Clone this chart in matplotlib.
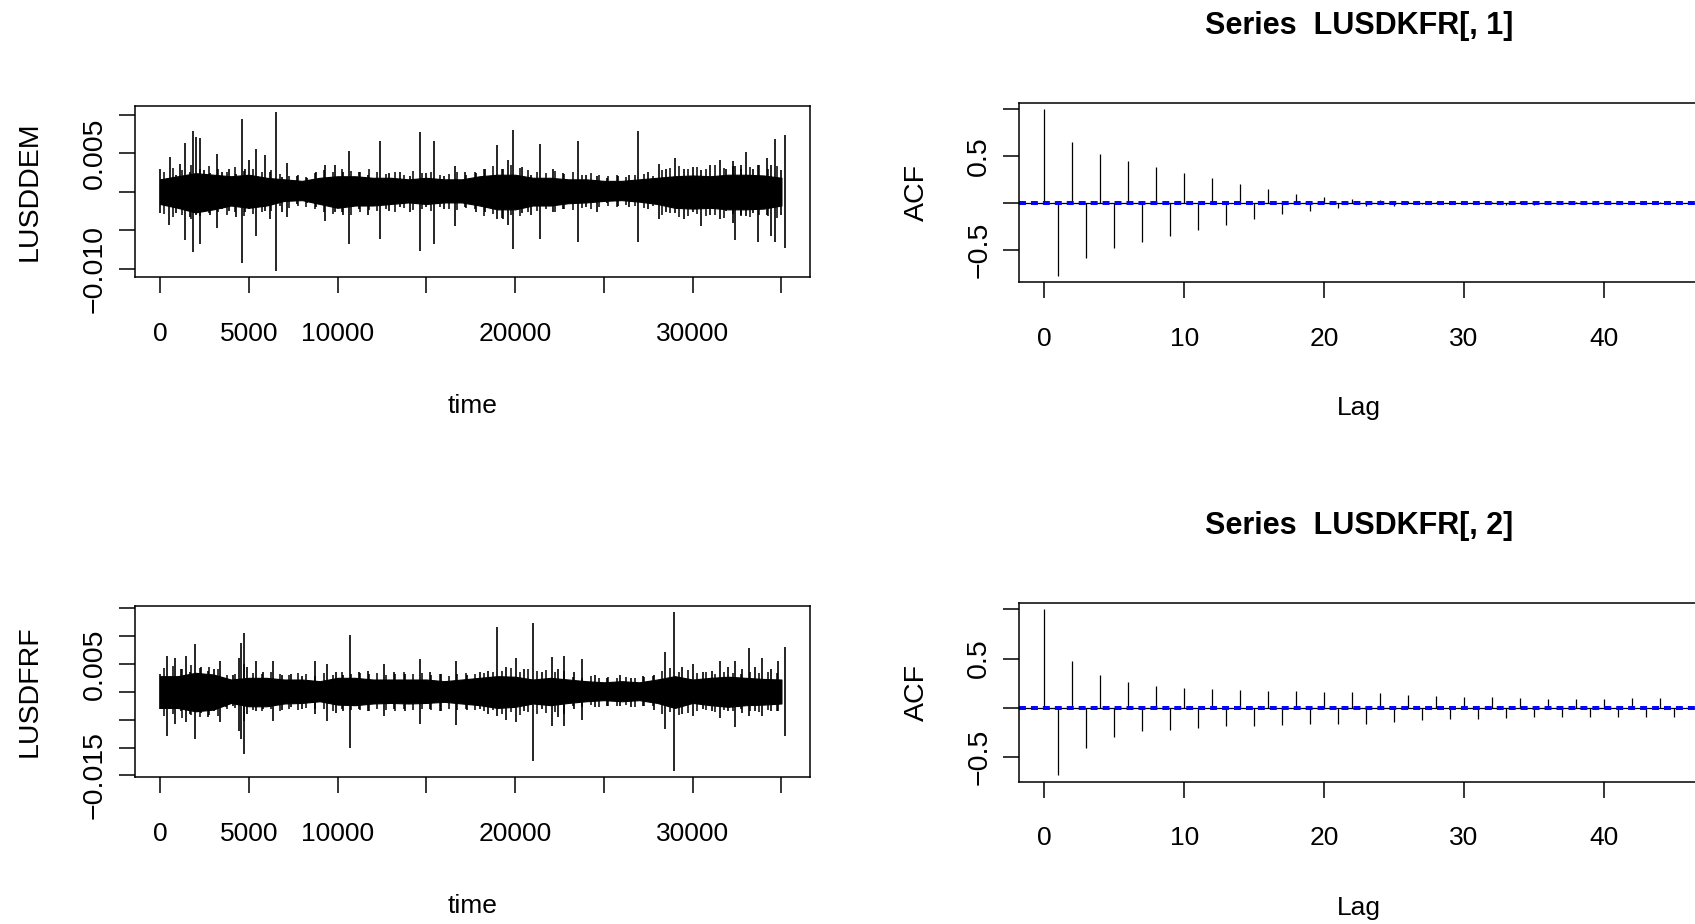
import numpy as np
import matplotlib
matplotlib.use('Agg')
import matplotlib.pyplot as plt
from matplotlib import font_manager

W, H = 1695, 924

# ---- data (values in units of 0.001) ----
n_obs = 35200
time_ticks = [0, 5000, 10000, 15000, 20000, 25000, 30000, 35000]
time_labels = ['0', '5000', '10000', '', '20000', '', '30000', '']

# dense core of each series, every 1000 steps
env_t = list(range(0, 36000, 1000))
dem_env_hi = [1.6, 2.0, 2.4, 2.2, 2.0, 2.2, 1.8, 1.6, 1.4, 1.8, 2.0, 2.0, 1.8, 1.8, 1.6, 1.8, 1.6, 1.6,
              2.0, 2.2, 2.2, 1.8, 1.8, 1.6, 1.6, 1.4, 1.4, 1.6, 1.8, 2.0, 2.1, 2.0, 2.2, 2.2, 2.1, 1.8]
dem_env_lo = [-1.6, -2.1, -2.7, -2.3, -1.8, -2.1, -1.8, -1.2, -1.1, -1.6, -2.1, -1.8, -1.8, -1.6, -1.4, -1.6, -1.4, -1.4,
              -1.8, -2.3, -2.3, -1.8, -1.8, -1.5, -1.4, -1.2, -1.1, -1.3, -1.6, -2.1, -2.2, -2.1, -2.3, -2.3, -2.2, -1.8]
frf_env_hi = [2.8, 2.8, 3.4, 3.1, 2.2, 2.5, 2.5, 2.2, 2.2, 1.9, 2.5, 2.5, 2.2, 2.2, 2.2, 2.2, 1.9, 2.2,
              2.5, 2.8, 2.7, 2.2, 2.5, 2.2, 1.9, 1.7, 1.9, 1.7, 2.2, 2.8, 2.2, 2.5, 2.7, 2.5, 2.3, 2.2]
frf_env_lo = [-2.9, -2.9, -3.5, -3.2, -2.0, -2.6, -2.6, -2.1, -2.0, -1.7, -2.3, -2.4, -2.1, -2.0, -2.1, -2.0, -1.8, -2.1,
              -2.4, -2.9, -2.7, -2.1, -2.4, -2.0, -1.7, -1.5, -1.7, -1.5, -2.0, -2.9, -2.0, -2.4, -2.7, -2.4, -2.3, -2.1]

# short hairs sticking out of the core, every 500 steps starting at 250
hair_t = list(range(250, 35000, 500))
dem_hair_hi = [2.6, 3.1, 2.8, 3.4, 3.0, 3.3,
               2.9, 2.6, 3.2, 2.7, 3.0, 2.5, 2.8,
               2.3, 2.0, 2.2, 1.9, 2.4,
               2.8, 2.6, 3.0, 2.7, 2.5, 2.9,
               2.6, 2.3, 2.5, 2.2, 2.7, 2.4, 2.6, 2.2, 2.3, 2.5, 2.2, 2.6,
               3.0, 3.3, 2.9, 3.4, 3.1, 2.8,
               2.6, 2.4, 2.7, 2.3, 2.5, 2.2, 2.4, 2.2,
               2.0, 2.2, 1.9, 2.1, 2.3, 2.0,
               2.8, 3.1, 3.3, 2.9, 3.2, 3.0, 3.4, 3.1, 3.3, 2.9, 3.2, 3.5, 3.0, 3.3]
dem_hair_lo = [-2.9, -3.3, -3.0, -3.6, -3.1, -2.8,
               -2.7, -3.0, -2.6, -3.1, -2.9, -2.7, -2.5,
               -1.9, -2.1, -1.8, -2.0, -2.2,
               -2.6, -2.9, -2.7, -3.0, -2.6, -2.4,
               -2.5, -2.2, -2.6, -2.1, -2.4, -2.3, -2.5, -2.0, -2.2, -2.4, -2.1, -2.3,
               -3.2, -2.9, -3.4, -3.0, -3.1, -2.7,
               -2.5, -2.3, -2.6, -2.2, -2.4, -2.1, -2.3, -2.0,
               -1.8, -2.0, -1.7, -1.9, -2.1, -1.9,
               -3.0, -2.8, -3.3, -3.1, -2.9, -3.2, -3.0, -3.4, -2.9, -3.1, -3.3, -3.0, -3.2, -3.4]
frf_hair_hi = [4.2, 4.6, 4.0, 4.8, 4.3, 4.5, 4.1,
               3.0, 3.2,
               5.0,
               3.4, 3.1, 3.6, 3.2, 3.0, 3.3, 3.1, 2.8,
               3.3, 3.0, 3.5, 3.2, 3.4, 3.1, 3.3, 3.0, 3.2, 3.5, 3.1, 3.3, 3.0, 3.2, 2.9, 3.1, 3.4, 3.2, 3.3, 3.5,
               3.8, 4.2, 3.6, 4.0, 3.7, 3.9, 3.5, 3.8,
               2.7, 2.5, 2.8, 2.4, 2.6, 2.5, 2.7, 2.4, 2.6, 2.8,
               3.8, 4.2, 3.6, 3.9,
               3.3, 3.5, 3.1, 3.6, 3.4, 3.2, 3.5, 3.3, 3.6, 3.4]
frf_hair_lo = [-4.4, -4.0, -4.7, -4.2, -4.6, -4.1, -4.3,
               -3.1, -2.9,
               -5.2,
               -3.2, -3.5, -3.0, -3.4, -3.1, -3.3, -2.9, -3.0,
               -3.1, -3.4, -3.0, -3.3, -3.2, -3.5, -3.0, -3.2, -3.4, -3.1, -3.3, -3.0, -3.2, -3.4, -3.1, -3.3,
               -3.0, -3.2, -3.5, -3.3,
               -4.0, -3.7, -4.1, -3.6, -3.9, -3.8, -3.6, -3.9,
               -2.6, -2.8, -2.4, -2.7, -2.5, -2.6, -2.4, -2.7, -2.5, -2.6,
               -4.0, -3.7, -4.1, -3.8,
               -3.4, -3.2, -3.6, -3.3, -3.5, -3.1, -3.4, -3.6, -3.2, -3.5]

# large individual excursions
dem_spk_t = [0, 480, 540, 900, 1150, 1430, 1700, 1880, 2030, 2230, 2500, 2800, 3220, 3500, 3900, 4300,
             4620, 4800, 5000, 5390, 5900, 6200, 6550, 6900, 7180, 7700, 8300, 8800, 9320, 9830, 10300,
             10660, 11200, 11700, 12390, 12900, 13500, 14100, 14630, 15000, 15430, 16000, 16620, 17200,
             17800, 18300, 19000, 19300, 19600, 19900, 20400, 20900, 21390, 22130, 22700, 23530, 24000,
             24600, 25200, 25800, 26400, 26900, 27500, 28090, 28500, 28980, 29500, 30000, 30470, 31000,
             31520, 31900, 32260, 32410, 32700, 33010, 33400, 33690, 34200, 34430, 34640, 34950, 35180]
dem_spk_hi = [2.9, 1.8, 4.5, 2.2, 3.6, 6.3, 2.5, 7.9, 7.1, 7.0, 2.8, 2.4, 4.9, 2.6, 2.9, 2.3,
              9.4, 3.0, 4.1, 5.5, 4.7, 2.5, 10.3, 1.9, 3.7, 2.0, 1.8, 2.6, 3.5, 3.4, 2.5,
              5.3, 2.6, 2.2, 6.6, 2.4, 2.5, 2.0, 7.8, 2.4, 6.6, 2.0, 3.3, 2.5,
              2.4, 3.0, 6.0, 3.0, 4.1, 8.0, 3.2, 2.2, 6.2, 2.9, 2.4, 6.6, 2.2,
              2.0, 1.8, 2.0, 2.2, 7.9, 2.5, 3.6, 3.0, 4.4, 3.0, 3.2, 2.8, 3.5,
              4.1, 3.0, 4.0, 3.3, 3.5, 5.2, 3.0, 3.5, 4.4, 3.5, 6.9, 2.8, 7.4]
dem_spk_lo = [-2.8, -4.3, -2.0, -2.8, -2.0, -6.3, -3.3, -7.8, -3.0, -6.8, -2.2, -3.0, -4.7, -2.2, -2.5, -3.3,
              -9.3, -2.6, -2.2, -5.7, -2.5, -3.5, -10.3, -2.6, -3.3, -1.6, -1.5, -2.0, -3.8, -2.6, -3.0,
              -6.8, -2.2, -3.0, -6.2, -2.5, -2.0, -2.6, -7.7, -2.0, -6.8, -2.3, -4.4, -2.0,
              -2.7, -2.6, -3.5, -3.5, -4.3, -7.5, -2.8, -3.0, -6.1, -2.6, -2.2, -6.5, -2.0,
              -2.6, -1.5, -1.8, -2.0, -6.5, -2.2, -3.5, -2.6, -2.8, -3.6, -2.6, -4.4, -3.0,
              -3.5, -2.5, -4.1, -6.3, -3.0, -3.2, -2.8, -6.5, -3.0, -5.7, -6.5, -3.0, -7.3]
frf_spk_t = [0, 390, 830, 1200, 1490, 1700, 1970, 2300, 2700, 3050, 3370, 3700, 4100, 4450, 4560, 4710,
             4900, 5390, 5800, 6350, 6900, 7400, 8000, 8730, 9380, 9900, 10300, 10720, 11200, 11700,
             12600, 13200, 13800, 14630, 15200, 15800, 16680, 17300, 18000, 18500, 19000, 19500, 20050,
             20500, 21030, 21500, 22070, 22400, 22730, 23300, 23770, 24500, 25200, 25900, 26500, 27200,
             27800, 28450, 28930, 29400, 30030, 30600, 31100, 31520, 32000, 32410, 32800, 33160, 33500,
             33900, 34400, 34800, 35180]
frf_spk_hi = [3.1, 6.5, 6.1, 4.0, 6.4, 3.5, 8.6, 4.5, 3.8, 4.0, 5.6, 2.5, 3.0, 6.0, 8.8, 10.5,
              4.5, 5.5, 3.5, 5.5, 3.0, 3.2, 2.8, 5.5, 4.9, 3.5, 3.0, 10.1, 3.5, 3.8,
              4.9, 3.5, 3.2, 5.8, 3.5, 3.2, 5.5, 3.0, 3.5, 3.8, 11.7, 4.5, 6.1,
              4.0, 12.3, 3.5, 6.3, 4.0, 6.4, 3.5, 5.8, 3.0, 2.5, 3.0, 2.5, 2.8,
              3.0, 7.1, 14.3, 4.5, 5.0, 3.5, 3.8, 5.6, 4.5, 5.5, 4.0, 7.9, 4.5,
              6.1, 4.0, 5.5, 8.0]
frf_spk_lo = [-3.0, -7.9, -5.8, -3.5, -5.5, -4.0, -8.4, -3.8, -4.5, -3.5, -5.5, -2.8, -2.5, -7.0, -8.5, -11.2,
              -4.0, -3.5, -3.0, -5.2, -3.2, -2.8, -3.0, -4.0, -5.2, -3.8, -3.5, -10.1, -3.0, -3.5,
              -4.3, -3.0, -3.5, -5.7, -3.0, -3.5, -6.0, -3.2, -3.0, -4.0, -4.3, -5.0, -5.4,
              -3.5, -12.4, -3.0, -6.1, -4.5, -6.1, -3.0, -5.0, -2.8, -2.5, -2.6, -2.8, -2.5,
              -3.2, -6.7, -14.2, -4.0, -4.3, -3.0, -3.5, -4.7, -3.5, -6.4, -3.8, -4.3, -3.5,
              -4.3, -3.5, -3.5, -7.9]

acf1 = [1.0, -0.777, 0.656, -0.589, 0.528, -0.482, 0.450, -0.415, 0.379, -0.348, 0.321, -0.294,
        0.268, -0.241, 0.207, -0.177, 0.145, -0.117, 0.097, -0.082, 0.066, -0.055, 0.045, -0.038,
        0.030, -0.030, 0.020, -0.012, 0.008, -0.006, 0.005, 0.010, 0.012, -0.020, 0.020, -0.025,
        0.022, -0.010, 0.008, -0.005, 0.005, -0.004, 0.008, -0.004, 0.006, -0.003]
acf2 = [1.0, -0.685, 0.473, -0.406, 0.332, -0.299, 0.258, -0.238, 0.221, -0.225, 0.205, -0.208,
        0.195, -0.191, 0.181, -0.185, 0.174, -0.178, 0.168, -0.168, 0.158, -0.164, 0.164, -0.161,
        0.148, -0.141, 0.131, -0.128, 0.117, -0.111, 0.104, -0.111, 0.107, -0.104, 0.097, -0.097,
        0.087, -0.094, 0.087, -0.094, 0.087, -0.094, 0.097, -0.097, 0.097, -0.097]
lag_ticks = [0, 10, 20, 30, 40]
acf_yticks = [-0.5, 0.0, 0.5, 1.0]
acf_ylabels = ['\u22120.5', '', '0.5', '']

dem_yticks = [-0.010, -0.005, 0.0, 0.005, 0.010]
dem_ylabels = ['\u22120.010', '', '', '0.005', '']
frf_yticks = [-0.015, -0.010, -0.005, 0.0, 0.005, 0.010, 0.015]
frf_ylabels = ['\u22120.015', '', '', '', '0.005', '', '']

# ---- fonts ----
installed = {f.name for f in font_manager.fontManager.ttflist}
if 'Liberation Sans Narrow' in installed:
    NARROW, HSIZE, TSIZE = 'Liberation Sans Narrow', 21.5, 25
else:
    NARROW, HSIZE, TSIZE = 'Liberation Sans', 19, 22
WIDE, VSIZE = 'Liberation Sans', 20.5

plt.rcParams['lines.scale_dashes'] = False
plt.rcParams['font.family'] = [WIDE, 'DejaVu Sans']


def rect(l, t, r, b):
    return [l / W, 1 - b / H, (r - l) / W, (b - t) / H]


def r_style(ax):
    for s in ax.spines.values():
        s.set_linewidth(1.1)
    ax.tick_params(direction='out', length=11.5, width=1.1)
    ax.tick_params(axis='x', pad=20.5)
    ax.tick_params(axis='y', pad=8)


fig = plt.figure(figsize=(W / 100, H / 100), dpi=100)


def ts_panel(box, spk_t, spk_hi, spk_lo, e_hi, e_lo, h_hi, h_lo, yticks, ylabels, name):
    ax = fig.add_axes(rect(*box))
    k = 0.001
    ax.fill_between(env_t, np.array(e_lo) * k, np.array(e_hi) * k, color='black', lw=0.8)
    ax.vlines(hair_t, np.array(h_lo) * k, np.array(h_hi) * k, color='black', lw=1.1)
    ax.vlines(spk_t, np.array(spk_lo) * k, np.array(spk_hi) * k, color='black', lw=1.2)
    span = n_obs - 1
    ax.set_xlim(1 - 0.04 * span, n_obs + 0.04 * span)
    lo, hi = min(spk_lo) * k, max(spk_hi) * k
    ax.set_ylim(lo - 0.04 * (hi - lo), hi + 0.04 * (hi - lo))
    ax.set_xticks(time_ticks)
    ax.set_xticklabels(time_labels, fontfamily=NARROW, fontsize=HSIZE)
    ax.set_yticks(yticks)
    ax.set_yticklabels(ylabels, fontfamily=WIDE, fontsize=VSIZE, rotation=90, va='center')
    r_style(ax)
    l, t, r, b = box
    fig.text((l + r) / 2 / W, 1 - (b + 136) / H, 'time', fontfamily=NARROW, fontsize=HSIZE,
             ha='center', va='baseline')
    fig.text(30 / W, 1 - (t + b) / 2 / H, name, fontfamily=WIDE, fontsize=VSIZE,
             rotation=90, ha='center', va='center')


def acf_panel(box, acf, title):
    ax = fig.add_axes(rect(*box))
    lags = np.arange(len(acf))
    clim = 1.96 / np.sqrt(n_obs)
    ax.axhline(0, color='black', lw=0.9)
    ax.vlines(lags, 0, acf, color='black', lw=0.9)
    for c in (clim, -clim):
        ax.axhline(c, color='#0000ff', lw=1.4, linestyle=(0, (5, 3.6)))
    ax.set_xlim(-0.04 * lags[-1], lags[-1] * 1.04)
    lo = min(acf)
    ax.set_ylim(lo - 0.04 * (1 - lo), 1 + 0.04 * (1 - lo))
    ax.set_xticks(lag_ticks)
    ax.set_xticklabels([str(v) for v in lag_ticks], fontfamily=NARROW, fontsize=HSIZE)
    ax.set_yticks(acf_yticks)
    ax.set_yticklabels(acf_ylabels, fontfamily=WIDE, fontsize=VSIZE, rotation=90, va='center')
    r_style(ax)
    l, t, r, b = box
    cx = (l + r) / 2 / W
    fig.text(cx, 1 - (b + 133) / H, 'Lag', fontfamily=NARROW, fontsize=HSIZE,
             ha='center', va='baseline')
    fig.text(917 / W, 1 - (t + b) / 2 / H, 'ACF', fontfamily=WIDE, fontsize=VSIZE,
             rotation=90, ha='center', va='center')
    fig.text(cx, 1 - (t - 69) / H, title, fontfamily=NARROW, fontsize=TSIZE,
             fontweight='bold', ha='center', va='baseline')


ts_panel((135, 106, 810, 277.3), dem_spk_t, dem_spk_hi, dem_spk_lo,
         dem_env_hi, dem_env_lo, dem_hair_hi, dem_hair_lo, dem_yticks, dem_ylabels, 'LUSDDEM')
ts_panel((135, 605.7, 810, 777.3), frf_spk_t, frf_spk_hi, frf_spk_lo,
         frf_env_hi, frf_env_lo, frf_hair_hi, frf_hair_lo, frf_yticks, frf_ylabels, 'LUSDFRF')
acf_panel((1019.3, 102.7, 1699, 282.3), acf1, 'Series  LUSDKFR[, 1]')
acf_panel((1019.3, 602.7, 1699, 781.7), acf2, 'Series  LUSDKFR[, 2]')

fig.savefig('out.png', dpi=100)
